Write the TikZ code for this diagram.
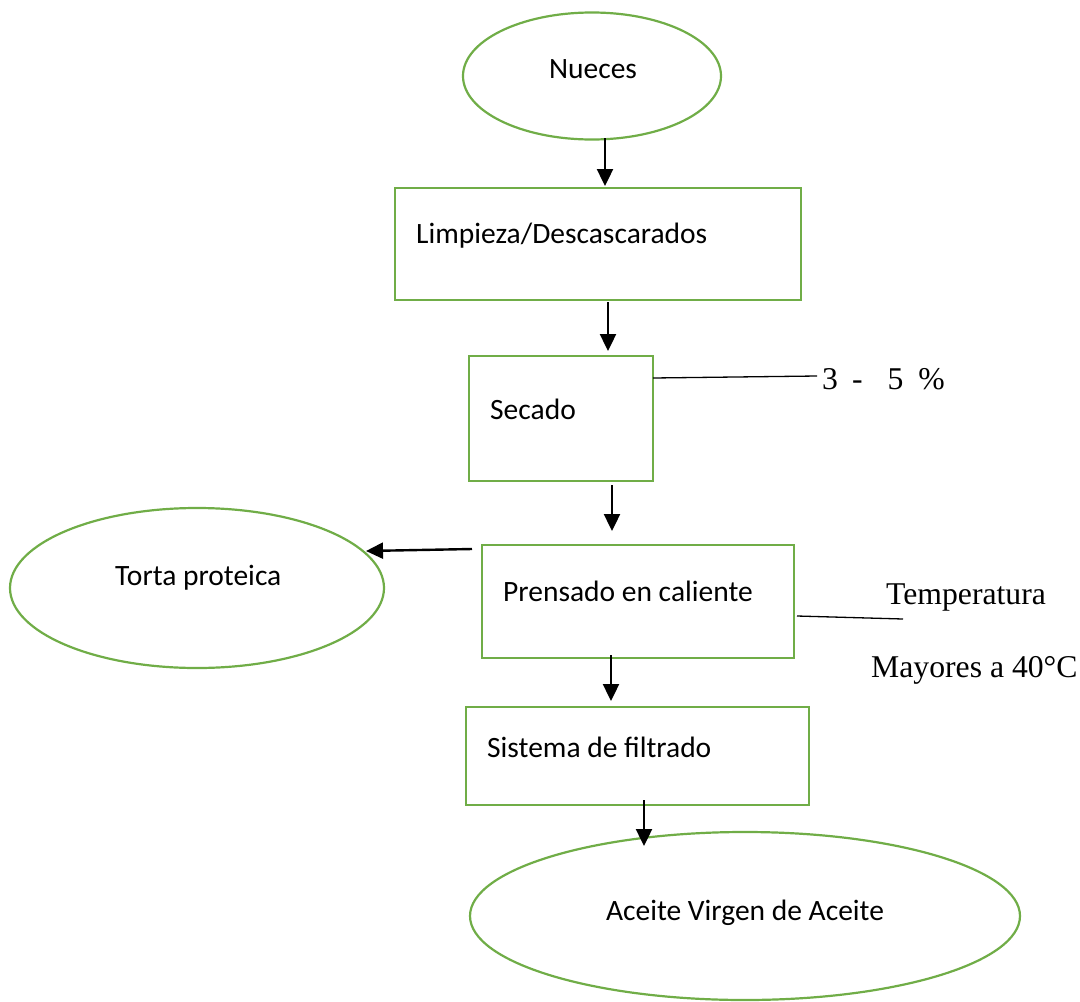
\documentclass[tikz,border=0pt]{standalone}
\usepackage{fontspec}
\setmainfont{Carlito}
\newfontfamily\tnr{Liberation Serif}
\usetikzlibrary{shapes.geometric,arrows.meta}
\definecolor{gr}{HTML}{70AD47}
\tikzset{
  box/.style={draw=gr,line width=2.2pt,fill=white},
  oval/.style={draw=gr,line width=2.2pt,fill=white},
  txt/.style={font=\fontsize{29.5}{35}\selectfont,inner sep=0pt},
  ann/.style={font=\tnr\fontsize{31.7}{36}\selectfont,inner sep=0pt},
  arr/.style={line width=2.4pt,-{Triangle[length=17pt,width=16pt]}},
  ln/.style={line width=1.3pt}
}
\begin{document}
\begin{tikzpicture}[x=1pt,y=-1pt]
\useasboundingbox (0,0) rectangle (1080,1002);
% shapes
\draw[oval] (592,76) ellipse [x radius=129,y radius=63.5];
\node[txt] (n1) at (593,69) {Nueces};
\draw[box] (395,188) rectangle (801,300);
\node[txt,anchor=west] (n2) at (416,236) {Limpieza/Descascarados};
\draw[box] (469,356) rectangle (653,481);
\node[txt,anchor=west] (n3) at (490,409) {Secado};
\draw[box] (482,545) rectangle (794,658);
\node[txt,anchor=west] (n4) at (503,591) {Prensado en caliente};
\draw[oval] (197,588) ellipse [x radius=187,y radius=80];
\node[txt,anchor=west] (n5) at (115,578) {Torta proteica};
\draw[box] (466,707) rectangle (809,805);
\node[txt,anchor=west] (n6) at (487,747) {Sistema de filtrado};
\draw[oval] (745,916) ellipse [x radius=275,y radius=84];
\node[txt] (n7) at (745,913) {Aceite Virgen de Aceite};
% annotations
\node[ann,anchor=west] (a1) at (822,379) {3\hspace{14pt}-\hspace{25pt}5\hspace{15pt}\%};
\node[ann,anchor=west] (a2) at (886,597) {Temperatura};
\node[ann,anchor=west] (a3) at (871,670) {Mayores a 40°C};
% connector coordinates
\coordinate (c1a) at (605,138); \coordinate (c1b) at (605,186);
\coordinate (c2a) at (608,302); \coordinate (c2b) at (608,351);
\coordinate (c3a) at (612,485); \coordinate (c3b) at (612,531);
\coordinate (c4a) at (611,655); \coordinate (c4b) at (611,701);
\coordinate (c5a) at (644,800); \coordinate (c5b) at (644,846);
\coordinate (c6a) at (472,549); \coordinate (c6b) at (366,551);
\coordinate (l1a) at (653,378); \coordinate (l1b) at (817,376);
\coordinate (l2a) at (797,616); \coordinate (l2b) at (903,619);
\draw[arr] (c1a) -- (c1b);
\draw[arr] (c2a) -- (c2b);
\draw[arr] (c3a) -- (c3b);
\draw[arr] (c4a) -- (c4b);
\draw[arr] (c5a) -- (c5b);
\draw[arr] (c6a) -- (c6b);
\draw[ln] (l1a) -- (l1b);
\draw[ln] (l2a) -- (l2b);
\end{tikzpicture}
\end{document}
